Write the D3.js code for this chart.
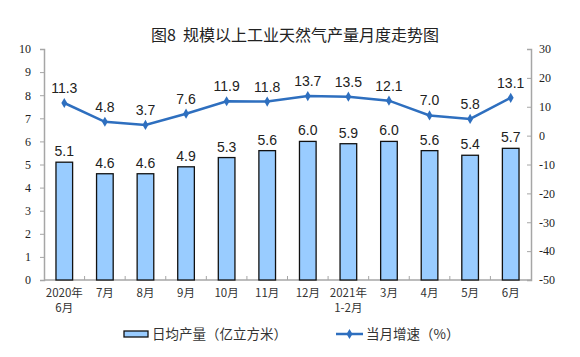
<!DOCTYPE html>
<html><head><meta charset="utf-8">
<script src="https://cdn.jsdelivr.net/npm/d3@7"></script>
<style>body{margin:0;background:#fff}svg{display:block}</style>
</head><body>
<script>
const categories = [["2020年","6月"],["7月"],["8月"],["9月"],["10月"],["11月"],["12月"],["2021年","1-2月"],["3月"],["4月"],["5月"],["6月"]];
const dailyOutput = [5.1,4.6,4.6,4.9,5.3,5.6,6.0,5.9,6.0,5.6,5.4,5.7];
const growth = [11.3,4.8,3.7,7.6,11.9,11.8,13.7,13.5,12.1,7.0,5.8,13.1];
const leftTicks = [0,1,2,3,4,5,6,7,8,9,10];
const rightTicks = [-50,-40,-30,-20,-10,0,10,20,30];
const title = "图8  规模以上工业天然气产量月度走势图";
const legendBar = "日均产量（亿立方米）";
const legendLine = "当月增速（%）";

const W=580,H=357;
const svg=d3.select("body").append("svg").attr("width",W).attr("height",H);
const x0=44,x1=531,yTop=49,yBot=280;
const x=d3.scaleBand().domain(d3.range(categories.length)).range([x0,x1]).paddingInner(0.59).paddingOuter(0.295);
const xb=d3.scaleBand().domain(d3.range(categories.length)).range([x0,x1]);
const yL=d3.scaleLinear().domain([0,10]).range([yBot,yTop]);
const yR=d3.scaleLinear().domain([-50,30]).range([yBot,yTop]);
const axisCol="#a6a6a6";

svg.append("text").attr("x",295).attr("y",41).attr("text-anchor","middle")
  .attr("font-family","'Noto Sans CJK SC',sans-serif").attr("font-size",16).attr("fill","#222").attr("xml:space","preserve").text(title);

// left axis
const gl=svg.append("g").attr("transform",`translate(${x0},0)`).call(d3.axisLeft(yL).tickValues(leftTicks).tickFormat(d=>String(d)).tickSize(4).tickPadding(9));
gl.select(".domain").attr("stroke",axisCol).attr("stroke-width",1.5);
gl.selectAll(".tick line").attr("stroke",axisCol);
gl.selectAll(".tick text").attr("font-family","'Liberation Serif',serif").attr("font-size",12).attr("fill","#222");

// right axis
const gr=svg.append("g").attr("transform",`translate(${x1},0)`).call(d3.axisRight(yR).tickValues(rightTicks).tickFormat(d=>String(d)).tickSize(-4).tickPadding(10));
gr.select(".domain").attr("stroke",axisCol).attr("stroke-width",1.5);
gr.selectAll(".tick line").attr("stroke",axisCol);
gr.selectAll(".tick text").attr("font-family","'Liberation Serif',serif").attr("font-size",12).attr("fill","#222").attr("x",8);

// x axis
svg.append("line").attr("x1",x0).attr("x2",x1).attr("y1",yBot).attr("y2",yBot).attr("stroke",axisCol).attr("stroke-width",1.5);
svg.selectAll(".xt").data(d3.range(1,categories.length)).join("line")
  .attr("x1",d=>xb(d)).attr("x2",d=>xb(d)).attr("y1",yBot).attr("y2",yBot-4).attr("stroke",axisCol);
const xl=svg.selectAll(".xl").data(categories).join("text")
  .attr("text-anchor","middle").attr("font-family","'Noto Sans CJK SC',sans-serif").attr("font-size",11.5).attr("fill","#333");
xl.each(function(d,i){
  const t=d3.select(this);
  d.forEach((s,j)=>t.append("tspan").attr("x",x(i)+x.bandwidth()/2).attr("y",yBot+17+j*15).text(s));
});

// bars
svg.selectAll(".bar").data(dailyOutput).join("rect")
  .attr("x",(d,i)=>x(i)).attr("width",x.bandwidth()).attr("y",d=>yL(d)).attr("height",d=>yBot-yL(d))
  .attr("fill","#99ccff").attr("stroke","#111").attr("stroke-width",1.3);
svg.selectAll(".bl").data(dailyOutput).join("text")
  .attr("x",(d,i)=>x(i)+x.bandwidth()/2).attr("y",d=>yL(d)-6).attr("text-anchor","middle")
  .attr("font-family","'Liberation Sans',Arial,sans-serif").attr("font-size",14).attr("fill","#222").text(d=>d.toFixed(1));

// line
const lineCol="#2e6fbf";
const line=d3.line().x((d,i)=>x(i)+x.bandwidth()/2).y(d=>yR(d));
svg.append("path").datum(growth).attr("d",line).attr("fill","none").attr("stroke",lineCol).attr("stroke-width",2.5);
const diamond=d3.symbol().type(d3.symbolDiamond).size(30);
svg.selectAll(".pt").data(growth).join("path").attr("d",diamond)
  .attr("transform",(d,i)=>`translate(${x(i)+x.bandwidth()/2},${yR(d)})`).attr("fill",lineCol);
svg.selectAll(".ll").data(growth).join("text")
  .attr("x",(d,i)=>x(i)+x.bandwidth()/2).attr("y",d=>yR(d)-10).attr("text-anchor","middle")
  .attr("font-family","'Liberation Sans',Arial,sans-serif").attr("font-size",14).attr("fill","#222").text(d=>d.toFixed(1));

// legend
svg.append("rect").attr("x",124).attr("y",331).attr("width",24).attr("height",6).attr("fill","#99ccff").attr("stroke","#111").attr("stroke-width",1.3);
svg.append("text").attr("x",152).attr("y",339).attr("font-family","'Noto Sans CJK SC',sans-serif").attr("font-size",13.5).attr("fill","#333").text(legendBar);
svg.append("line").attr("x1",336).attr("x2",363).attr("y1",334).attr("y2",334).attr("stroke",lineCol).attr("stroke-width",2.5);
svg.append("path").attr("d",diamond).attr("transform","translate(349.5,334)").attr("fill",lineCol);
svg.append("text").attr("x",366).attr("y",339).attr("font-family","'Noto Sans CJK SC',sans-serif").attr("font-size",13.5).attr("fill","#333").text(legendLine);
</script>
</body></html>
